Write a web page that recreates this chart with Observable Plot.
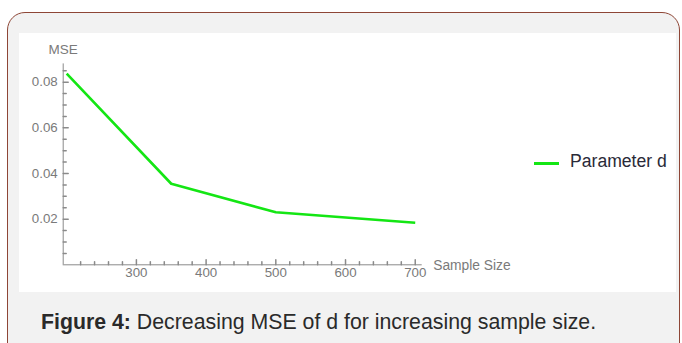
<!DOCTYPE html>
<html>
<head>
<meta charset="utf-8">
<script src="https://cdn.jsdelivr.net/npm/d3@7"></script>
<script src="https://cdn.jsdelivr.net/npm/@observablehq/plot@0.6"></script>
<style>
  html, body { margin: 0; padding: 0; background: #ffffff; }
  body { width: 682px; height: 343px; position: relative; overflow: hidden; font-family: "Liberation Sans", Arial, sans-serif; }
  #frame { position: absolute; left: 7px; top: 12px; width: 671px; height: 360px; border: 1.5px solid #8e4636; border-radius: 18px; background: #f2f2f2; }
  #panel { position: absolute; left: 19px; top: 33px; width: 657px; height: 259px; background: #ffffff; }
  #chart { position: absolute; left: 0; top: 0; }
  #legend-line { position: absolute; left: 534px; top: 162px; width: 25px; height: 2.6px; background: #14e614; }
  #legend-text { position: absolute; left: 570px; top: 153.2px; font-size: 17.6px; line-height: 17.6px; color: #2a2a38; white-space: nowrap; }
  #caption { position: absolute; left: 41px; top: 312px; font-size: 21.3px; line-height: 21.3px; color: #2a2a2a; white-space: nowrap; }
  #caption b { font-weight: bold; }
</style>
</head>
<body>
<div id="frame"></div>
<div id="panel"></div>
<div id="chart"></div>
<div id="legend-line"></div>
<div id="legend-text">Parameter d</div>
<div id="caption"><b>Figure 4:</b> Decreasing MSE of d for increasing sample size.</div>
<script>
// Data
const sampleSizes = [200, 350, 500, 700];
const mseValues = [0.0837, 0.0355, 0.0230, 0.0184];

// Tick labels
const xTickValues = [300, 400, 500, 600, 700];
const yTickValues = [0.02, 0.04, 0.06, 0.08];
const xMinorTicks = d3.range(200, 701, 20).filter(v => v % 100 !== 0);
const yMinorTicks = d3.range(1, 18).map(i => +(i * 0.005).toFixed(3)).filter(v => Math.round(v * 1000) % 20 !== 0);

const xLabel = "Sample Size";
const yLabel = "MSE";
const seriesName = "Parameter d";

const data = sampleSizes.map((s, i) => ({size: s, mse: mseValues[i], series: seriesName}));

const axisColor = "#8a8a8a";
const labelColor = "#7a7a7a";
const lineColor = "#14e614";

const tickShape = {
  draw(context, l) { context.moveTo(0, 0); context.lineTo(0, -l); }
};

const chart = Plot.plot({
  width: 682,
  height: 343,
  marginLeft: 62.7,
  marginRight: 260.3,
  marginTop: 63.4,
  marginBottom: 78.7,
  style: {background: "transparent", fontFamily: "'Liberation Sans', Arial, sans-serif", fontSize: "13px", color: labelColor},
  x: {domain: [195, 710]},
  y: {domain: [0, 0.088]},
  marks: [
    // axis lines
    Plot.ruleY([0], {stroke: axisColor, strokeWidth: 1}),
    Plot.ruleX([195], {stroke: axisColor, strokeWidth: 1}),
    // major and minor ticks (inward)
    Plot.vector(yTickValues, {y: d => d, frameAnchor: "left", length: 5, rotate: 90, anchor: "start", shape: tickShape, stroke: axisColor}),
    Plot.vector(yMinorTicks, {y: d => d, frameAnchor: "left", length: 3, rotate: 90, anchor: "start", shape: tickShape, stroke: axisColor}),
    Plot.vector(xTickValues, {x: d => d, frameAnchor: "bottom", length: 5, rotate: 0, anchor: "start", shape: tickShape, stroke: axisColor}),
    Plot.vector(xMinorTicks, {x: d => d, frameAnchor: "bottom", length: 3, rotate: 0, anchor: "start", shape: tickShape, stroke: axisColor}),
    // tick labels
    Plot.axisY({ticks: yTickValues, tickSize: 0, tickPadding: 5.5, tickFormat: d3.format(".2f"), label: null, fill: labelColor, fontSize: 13.3}),
    Plot.axisX({ticks: xTickValues, tickSize: 0, tickPadding: 3, tickFormat: d => String(d), label: null, fill: labelColor, fontSize: 13.3}),
    // axis labels
    Plot.text([yLabel], {frameAnchor: "top-left", text: d => d, textAnchor: "middle", lineAnchor: "bottom", dy: -9.5, fill: labelColor, fontSize: 13.5}),
    Plot.text([xLabel], {frameAnchor: "bottom-right", text: d => d, textAnchor: "start", lineAnchor: "middle", dx: 11, dy: 0.5, fill: labelColor, fontSize: 13.8}),
    // series
    Plot.line(data, {x: "size", y: "mse", stroke: lineColor, strokeWidth: 2.6, strokeLinejoin: "round", strokeLinecap: "butt"})
  ]
});
document.getElementById("chart").appendChild(chart);
</script>
</body>
</html>
